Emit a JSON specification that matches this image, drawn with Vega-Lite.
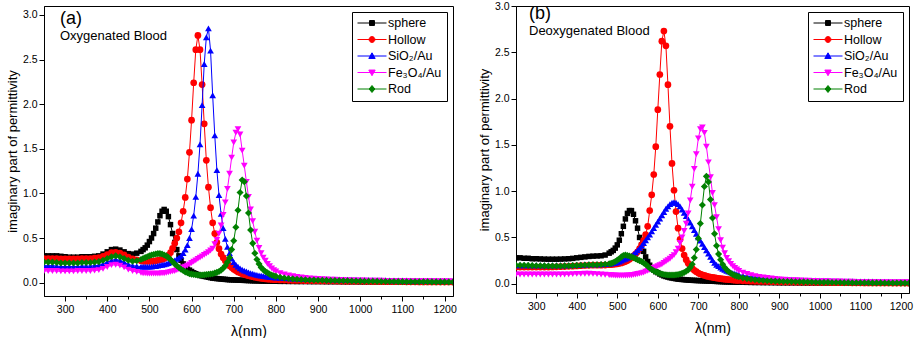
{
"$schema":"https://vega.github.io/schema/vega-lite/v6.json",
"padding":{"left":5,"top":0,"right":4,"bottom":2},
"spacing":20,
"config":{
 "font":"Liberation Sans",
 "view":{"stroke":"#000000","strokeWidth":1},
 "axis":{"grid":false,"domainColor":"#000000","tickColor":"#000000","labelColor":"#000000","titleColor":"#000000","labelFontSize":10.5,"titleFontWeight":"normal","labelFont":"Liberation Sans","titleFont":"Liberation Sans","labelFlush":false,"labelOverlap":false},
 "legend":{"orient":"top-right","offset":6,"padding":5,"strokeColor":"#000000","fillColor":"#ffffff","symbolSize":841,"symbolStrokeWidth":1,"symbolOpacity":1,"labelFontSize":12.5,"labelColor":"#000000","labelOffset":1,"rowPadding":3.5,"clipHeight":12,"labelFont":"Liberation Sans"},
 "title":{"color":"#000000","subtitleColor":"#000000","font":"Liberation Sans","subtitleFont":"Liberation Sans"}
},
"datasets":{
"leg":[{"series":"sphere"},{"series":"Hollow"},{"series":"SiO₂/Au"},{"series":"Fe₃O₄/Au"},{"series":"Rod"}],
"a":[
{"x":250,"s":0.30,"h":0.27,"si":0.19,"fe":0.13,"r":0.23},
{"x":260,"s":0.30,"h":0.27,"si":0.19,"fe":0.13,"r":0.23},
{"x":270,"s":0.30,"h":0.27,"si":0.19,"fe":0.13,"r":0.23},
{"x":280,"s":0.30,"h":0.27,"si":0.185,"fe":0.13,"r":0.225},
{"x":290,"s":0.295,"h":0.265,"si":0.18,"fe":0.125,"r":0.22},
{"x":300,"s":0.29,"h":0.265,"si":0.18,"fe":0.125,"r":0.22},
{"x":310,"s":0.285,"h":0.265,"si":0.18,"fe":0.125,"r":0.22},
{"x":320,"s":0.285,"h":0.265,"si":0.18,"fe":0.125,"r":0.22},
{"x":330,"s":0.285,"h":0.265,"si":0.18,"fe":0.13,"r":0.22},
{"x":340,"s":0.29,"h":0.27,"si":0.185,"fe":0.13,"r":0.225},
{"x":350,"s":0.29,"h":0.27,"si":0.185,"fe":0.13,"r":0.225},
{"x":360,"s":0.29,"h":0.27,"si":0.185,"fe":0.13,"r":0.225},
{"x":370,"s":0.295,"h":0.275,"si":0.19,"fe":0.135,"r":0.23},
{"x":380,"s":0.30,"h":0.28,"si":0.195,"fe":0.14,"r":0.235},
{"x":390,"s":0.32,"h":0.295,"si":0.21,"fe":0.155,"r":0.25},
{"x":400,"s":0.345,"h":0.315,"si":0.23,"fe":0.175,"r":0.27},
{"x":410,"s":0.37,"h":0.335,"si":0.25,"fe":0.195,"r":0.29},
{"x":420,"s":0.375,"h":0.34,"si":0.26,"fe":0.20,"r":0.30},
{"x":430,"s":0.365,"h":0.33,"si":0.25,"fe":0.19,"r":0.29},
{"x":440,"s":0.345,"h":0.31,"si":0.23,"fe":0.17,"r":0.27},
{"x":450,"s":0.325,"h":0.285,"si":0.205,"fe":0.145,"r":0.25},
{"x":460,"s":0.32,"h":0.265,"si":0.19,"fe":0.13,"r":0.24},
{"x":470,"s":0.33,"h":0.255,"si":0.185,"fe":0.12,"r":0.245},
{"x":480,"s":0.35,"h":0.245,"si":0.18,"fe":0.11,"r":0.26},
{"x":485,"s":0.37,"h":0.24,"si":0.18,"fe":0.105,"r":0.27},
{"x":490,"s":0.39,"h":0.24,"si":0.18,"fe":0.105,"r":0.28},
{"x":495,"s":0.42,"h":0.24,"si":0.18,"fe":0.1,"r":0.29},
{"x":500,"s":0.46,"h":0.24,"si":0.18,"fe":0.1,"r":0.30},
{"x":505,"s":0.5,"h":0.24,"si":0.18,"fe":0.1,"r":0.31},
{"x":510,"s":0.55,"h":0.24,"si":0.185,"fe":0.1,"r":0.315},
{"x":515,"s":0.61,"h":0.245,"si":0.185,"fe":0.1,"r":0.32},
{"x":520,"s":0.68,"h":0.25,"si":0.19,"fe":0.1,"r":0.325},
{"x":525,"s":0.75,"h":0.255,"si":0.195,"fe":0.1,"r":0.325},
{"x":530,"s":0.80,"h":0.26,"si":0.2,"fe":0.105,"r":0.32},
{"x":535,"s":0.82,"h":0.27,"si":0.205,"fe":0.105,"r":0.31},
{"x":540,"s":0.80,"h":0.285,"si":0.21,"fe":0.11,"r":0.30},
{"x":545,"s":0.74,"h":0.305,"si":0.22,"fe":0.115,"r":0.28},
{"x":550,"s":0.65,"h":0.335,"si":0.23,"fe":0.12,"r":0.26},
{"x":555,"s":0.55,"h":0.385,"si":0.24,"fe":0.125,"r":0.235},
{"x":560,"s":0.45,"h":0.44,"si":0.25,"fe":0.13,"r":0.21},
{"x":565,"s":0.37,"h":0.5,"si":0.265,"fe":0.14,"r":0.19},
{"x":570,"s":0.3,"h":0.57,"si":0.28,"fe":0.15,"r":0.17},
{"x":575,"s":0.25,"h":0.67,"si":0.3,"fe":0.16,"r":0.15},
{"x":580,"s":0.21,"h":0.8,"si":0.33,"fe":0.17,"r":0.135},
{"x":585,"s":0.18,"h":0.955,"si":0.37,"fe":0.18,"r":0.12},
{"x":590,"s":0.16,"h":1.16,"si":0.42,"fe":0.19,"r":0.11},
{"x":595,"s":0.14,"h":1.46,"si":0.5,"fe":0.205,"r":0.1},
{"x":600,"s":0.125,"h":1.82,"si":0.6,"fe":0.22,"r":0.095},
{"x":605,"s":0.11,"h":2.24,"si":0.75,"fe":0.235,"r":0.09},
{"x":610,"s":0.1,"h":2.61,"si":0.96,"fe":0.25,"r":0.088},
{"x":615,"s":0.09,"h":2.77,"si":1.22,"fe":0.265,"r":0.085},
{"x":620,"s":0.08,"h":2.61,"si":1.55,"fe":0.28,"r":0.085},
{"x":625,"s":0.075,"h":2.22,"si":1.99,"fe":0.295,"r":0.085},
{"x":630,"s":0.07,"h":1.78,"si":2.45,"fe":0.31,"r":0.087},
{"x":635,"s":0.065,"h":1.37,"si":2.75,"fe":0.325,"r":0.09},
{"x":640,"s":0.06,"h":1.07,"si":2.85,"fe":0.34,"r":0.093},
{"x":645,"s":0.055,"h":0.84,"si":2.6,"fe":0.36,"r":0.097},
{"x":650,"s":0.05,"h":0.67,"si":2.1,"fe":0.38,"r":0.1},
{"x":655,"s":0.048,"h":0.55,"si":1.65,"fe":0.43,"r":0.107},
{"x":660,"s":0.045,"h":0.45,"si":1.26,"fe":0.48,"r":0.115},
{"x":665,"s":0.043,"h":0.38,"si":0.98,"fe":0.55,"r":0.125},
{"x":670,"s":0.04,"h":0.32,"si":0.77,"fe":0.64,"r":0.14},
{"x":675,"s":0.038,"h":0.28,"si":0.61,"fe":0.76,"r":0.16},
{"x":680,"s":0.036,"h":0.245,"si":0.49,"fe":0.9,"r":0.19},
{"x":685,"s":0.034,"h":0.215,"si":0.4,"fe":1.05,"r":0.23},
{"x":690,"s":0.032,"h":0.19,"si":0.33,"fe":1.22,"r":0.28},
{"x":695,"s":0.031,"h":0.17,"si":0.27,"fe":1.4,"r":0.37},
{"x":700,"s":0.03,"h":0.15,"si":0.23,"fe":1.57,"r":0.47},
{"x":705,"s":0.029,"h":0.135,"si":0.2,"fe":1.68,"r":0.62},
{"x":710,"s":0.028,"h":0.12,"si":0.18,"fe":1.72,"r":0.81},
{"x":715,"s":0.027,"h":0.11,"si":0.16,"fe":1.66,"r":1.01},
{"x":720,"s":0.026,"h":0.1,"si":0.145,"fe":1.48,"r":1.15},
{"x":725,"s":0.025,"h":0.092,"si":0.135,"fe":1.31,"r":1.13},
{"x":730,"s":0.024,"h":0.085,"si":0.125,"fe":1.13,"r":0.97},
{"x":735,"s":0.023,"h":0.078,"si":0.115,"fe":0.96,"r":0.78},
{"x":740,"s":0.022,"h":0.072,"si":0.105,"fe":0.82,"r":0.59},
{"x":745,"s":0.021,"h":0.066,"si":0.1,"fe":0.69,"r":0.44},
{"x":750,"s":0.02,"h":0.06,"si":0.092,"fe":0.57,"r":0.33},
{"x":755,"s":0.02,"h":0.056,"si":0.087,"fe":0.47,"r":0.26},
{"x":760,"s":0.019,"h":0.052,"si":0.082,"fe":0.39,"r":0.21},
{"x":765,"s":0.018,"h":0.048,"si":0.078,"fe":0.33,"r":0.17},
{"x":770,"s":0.018,"h":0.045,"si":0.074,"fe":0.28,"r":0.145},
{"x":775,"s":0.017,"h":0.042,"si":0.07,"fe":0.245,"r":0.125},
{"x":780,"s":0.017,"h":0.04,"si":0.067,"fe":0.21,"r":0.11},
{"x":785,"s":0.016,"h":0.038,"si":0.064,"fe":0.185,"r":0.095},
{"x":790,"s":0.016,"h":0.036,"si":0.061,"fe":0.16,"r":0.085},
{"x":795,"s":0.015,"h":0.034,"si":0.058,"fe":0.14,"r":0.077},
{"x":800,"s":0.015,"h":0.032,"si":0.056,"fe":0.125,"r":0.07},
{"x":810,"s":0.014,"h":0.03,"si":0.053,"fe":0.105,"r":0.06},
{"x":820,"s":0.014,"h":0.028,"si":0.05,"fe":0.092,"r":0.052},
{"x":830,"s":0.013,"h":0.026,"si":0.048,"fe":0.082,"r":0.046},
{"x":840,"s":0.013,"h":0.025,"si":0.046,"fe":0.073,"r":0.042},
{"x":850,"s":0.012,"h":0.024,"si":0.044,"fe":0.065,"r":0.038},
{"x":860,"s":0.012,"h":0.023,"si":0.043,"fe":0.058,"r":0.035},
{"x":870,"s":0.012,"h":0.022,"si":0.042,"fe":0.053,"r":0.032},
{"x":880,"s":0.011,"h":0.021,"si":0.041,"fe":0.048,"r":0.03},
{"x":890,"s":0.011,"h":0.02,"si":0.04,"fe":0.044,"r":0.028},
{"x":900,"s":0.011,"h":0.02,"si":0.04,"fe":0.041,"r":0.027},
{"x":910,"s":0.011,"h":0.019,"si":0.039,"fe":0.038,"r":0.026},
{"x":920,"s":0.01,"h":0.018,"si":0.038,"fe":0.036,"r":0.025},
{"x":930,"s":0.01,"h":0.018,"si":0.037,"fe":0.034,"r":0.024},
{"x":940,"s":0.01,"h":0.017,"si":0.036,"fe":0.032,"r":0.023},
{"x":950,"s":0.01,"h":0.016,"si":0.035,"fe":0.031,"r":0.022},
{"x":960,"s":0.009,"h":0.016,"si":0.034,"fe":0.029,"r":0.021},
{"x":970,"s":0.009,"h":0.015,"si":0.033,"fe":0.028,"r":0.02},
{"x":980,"s":0.009,"h":0.015,"si":0.032,"fe":0.027,"r":0.019},
{"x":990,"s":0.009,"h":0.014,"si":0.032,"fe":0.026,"r":0.018},
{"x":1000,"s":0.008,"h":0.014,"si":0.031,"fe":0.025,"r":0.017},
{"x":1010,"s":0.008,"h":0.013,"si":0.03,"fe":0.024,"r":0.016},
{"x":1020,"s":0.008,"h":0.013,"si":0.029,"fe":0.023,"r":0.015},
{"x":1030,"s":0.008,"h":0.012,"si":0.029,"fe":0.022,"r":0.015},
{"x":1040,"s":0.008,"h":0.012,"si":0.028,"fe":0.021,"r":0.014},
{"x":1050,"s":0.007,"h":0.011,"si":0.027,"fe":0.021,"r":0.013},
{"x":1060,"s":0.007,"h":0.011,"si":0.027,"fe":0.02,"r":0.013},
{"x":1070,"s":0.007,"h":0.011,"si":0.026,"fe":0.02,"r":0.012},
{"x":1080,"s":0.007,"h":0.01,"si":0.025,"fe":0.019,"r":0.012},
{"x":1090,"s":0.007,"h":0.01,"si":0.025,"fe":0.019,"r":0.011},
{"x":1100,"s":0.006,"h":0.01,"si":0.024,"fe":0.018,"r":0.011},
{"x":1110,"s":0.006,"h":0.009,"si":0.024,"fe":0.018,"r":0.01},
{"x":1120,"s":0.006,"h":0.009,"si":0.023,"fe":0.017,"r":0.01},
{"x":1130,"s":0.006,"h":0.009,"si":0.023,"fe":0.017,"r":0.01},
{"x":1140,"s":0.006,"h":0.008,"si":0.022,"fe":0.017,"r":0.009},
{"x":1150,"s":0.006,"h":0.008,"si":0.022,"fe":0.016,"r":0.009},
{"x":1160,"s":0.005,"h":0.008,"si":0.021,"fe":0.016,"r":0.009},
{"x":1170,"s":0.005,"h":0.008,"si":0.021,"fe":0.016,"r":0.008},
{"x":1180,"s":0.005,"h":0.007,"si":0.021,"fe":0.015,"r":0.008},
{"x":1190,"s":0.005,"h":0.007,"si":0.02,"fe":0.015,"r":0.008},
{"x":1200,"s":0.005,"h":0.007,"si":0.02,"fe":0.015,"r":0.008},
{"x":1210,"s":0.005,"h":0.007,"si":0.02,"fe":0.015,"r":0.007},
{"x":1220,"s":0.005,"h":0.006,"si":0.019,"fe":0.014,"r":0.007}
],
"b":[
{"x":250,"s":0.28,"h":0.18,"si":0.2,"fe":0.1,"r":0.2},
{"x":260,"s":0.28,"h":0.18,"si":0.2,"fe":0.1,"r":0.2},
{"x":270,"s":0.275,"h":0.18,"si":0.2,"fe":0.1,"r":0.2},
{"x":280,"s":0.275,"h":0.18,"si":0.2,"fe":0.1,"r":0.198},
{"x":290,"s":0.27,"h":0.18,"si":0.2,"fe":0.1,"r":0.196},
{"x":300,"s":0.27,"h":0.18,"si":0.2,"fe":0.1,"r":0.195},
{"x":310,"s":0.268,"h":0.18,"si":0.2,"fe":0.1,"r":0.194},
{"x":320,"s":0.266,"h":0.18,"si":0.2,"fe":0.1,"r":0.193},
{"x":330,"s":0.265,"h":0.18,"si":0.2,"fe":0.1,"r":0.192},
{"x":340,"s":0.265,"h":0.182,"si":0.2,"fe":0.1,"r":0.192},
{"x":350,"s":0.265,"h":0.183,"si":0.2,"fe":0.1,"r":0.192},
{"x":360,"s":0.266,"h":0.184,"si":0.2,"fe":0.1,"r":0.192},
{"x":370,"s":0.268,"h":0.186,"si":0.2,"fe":0.1,"r":0.193},
{"x":380,"s":0.27,"h":0.188,"si":0.2,"fe":0.102,"r":0.194},
{"x":390,"s":0.274,"h":0.19,"si":0.202,"fe":0.104,"r":0.196},
{"x":400,"s":0.28,"h":0.192,"si":0.204,"fe":0.106,"r":0.198},
{"x":410,"s":0.285,"h":0.195,"si":0.206,"fe":0.107,"r":0.2},
{"x":420,"s":0.29,"h":0.197,"si":0.208,"fe":0.108,"r":0.202},
{"x":430,"s":0.295,"h":0.199,"si":0.21,"fe":0.108,"r":0.204},
{"x":440,"s":0.298,"h":0.2,"si":0.21,"fe":0.106,"r":0.205},
{"x":450,"s":0.30,"h":0.2,"si":0.21,"fe":0.104,"r":0.206},
{"x":460,"s":0.302,"h":0.2,"si":0.21,"fe":0.1,"r":0.207},
{"x":470,"s":0.31,"h":0.202,"si":0.212,"fe":0.097,"r":0.21},
{"x":480,"s":0.33,"h":0.205,"si":0.215,"fe":0.094,"r":0.215},
{"x":485,"s":0.345,"h":0.207,"si":0.218,"fe":0.092,"r":0.22},
{"x":490,"s":0.36,"h":0.21,"si":0.222,"fe":0.09,"r":0.23},
{"x":495,"s":0.385,"h":0.212,"si":0.226,"fe":0.089,"r":0.24},
{"x":500,"s":0.42,"h":0.215,"si":0.232,"fe":0.088,"r":0.255},
{"x":505,"s":0.47,"h":0.22,"si":0.24,"fe":0.087,"r":0.27},
{"x":510,"s":0.54,"h":0.225,"si":0.25,"fe":0.087,"r":0.29},
{"x":515,"s":0.62,"h":0.232,"si":0.26,"fe":0.087,"r":0.305},
{"x":520,"s":0.7,"h":0.24,"si":0.27,"fe":0.088,"r":0.31},
{"x":525,"s":0.76,"h":0.25,"si":0.28,"fe":0.089,"r":0.305},
{"x":530,"s":0.79,"h":0.265,"si":0.29,"fe":0.09,"r":0.3},
{"x":535,"s":0.79,"h":0.28,"si":0.3,"fe":0.092,"r":0.29},
{"x":540,"s":0.75,"h":0.3,"si":0.32,"fe":0.095,"r":0.28},
{"x":545,"s":0.68,"h":0.32,"si":0.34,"fe":0.1,"r":0.27},
{"x":550,"s":0.6,"h":0.345,"si":0.36,"fe":0.105,"r":0.26},
{"x":555,"s":0.5,"h":0.38,"si":0.385,"fe":0.11,"r":0.25},
{"x":560,"s":0.42,"h":0.42,"si":0.41,"fe":0.115,"r":0.24},
{"x":565,"s":0.35,"h":0.47,"si":0.44,"fe":0.12,"r":0.225},
{"x":570,"s":0.29,"h":0.53,"si":0.47,"fe":0.13,"r":0.21},
{"x":575,"s":0.24,"h":0.62,"si":0.5,"fe":0.14,"r":0.19},
{"x":580,"s":0.2,"h":0.79,"si":0.53,"fe":0.15,"r":0.17},
{"x":585,"s":0.17,"h":0.96,"si":0.565,"fe":0.16,"r":0.155},
{"x":590,"s":0.15,"h":1.18,"si":0.6,"fe":0.17,"r":0.14},
{"x":595,"s":0.13,"h":1.48,"si":0.635,"fe":0.18,"r":0.13},
{"x":600,"s":0.12,"h":1.88,"si":0.67,"fe":0.19,"r":0.12},
{"x":605,"s":0.105,"h":2.26,"si":0.705,"fe":0.2,"r":0.11},
{"x":610,"s":0.095,"h":2.62,"si":0.74,"fe":0.21,"r":0.105},
{"x":615,"s":0.085,"h":2.73,"si":0.775,"fe":0.225,"r":0.1},
{"x":620,"s":0.078,"h":2.57,"si":0.81,"fe":0.24,"r":0.097},
{"x":625,"s":0.072,"h":2.15,"si":0.835,"fe":0.255,"r":0.095},
{"x":630,"s":0.066,"h":1.7,"si":0.86,"fe":0.27,"r":0.094},
{"x":635,"s":0.062,"h":1.3,"si":0.875,"fe":0.29,"r":0.094},
{"x":640,"s":0.058,"h":1.01,"si":0.88,"fe":0.31,"r":0.095},
{"x":645,"s":0.054,"h":0.78,"si":0.875,"fe":0.34,"r":0.097},
{"x":650,"s":0.05,"h":0.6,"si":0.86,"fe":0.38,"r":0.1},
{"x":655,"s":0.048,"h":0.48,"si":0.835,"fe":0.44,"r":0.105},
{"x":660,"s":0.046,"h":0.38,"si":0.8,"fe":0.5,"r":0.112},
{"x":665,"s":0.044,"h":0.31,"si":0.765,"fe":0.57,"r":0.122},
{"x":670,"s":0.042,"h":0.26,"si":0.73,"fe":0.65,"r":0.135},
{"x":675,"s":0.04,"h":0.22,"si":0.695,"fe":0.76,"r":0.15},
{"x":680,"s":0.038,"h":0.19,"si":0.66,"fe":0.9,"r":0.175},
{"x":685,"s":0.037,"h":0.165,"si":0.62,"fe":1.05,"r":0.21},
{"x":690,"s":0.036,"h":0.145,"si":0.58,"fe":1.24,"r":0.28},
{"x":695,"s":0.035,"h":0.13,"si":0.54,"fe":1.4,"r":0.37},
{"x":700,"s":0.034,"h":0.115,"si":0.5,"fe":1.57,"r":0.49},
{"x":705,"s":0.033,"h":0.105,"si":0.465,"fe":1.67,"r":0.65},
{"x":710,"s":0.032,"h":0.097,"si":0.43,"fe":1.69,"r":0.85},
{"x":715,"s":0.031,"h":0.09,"si":0.395,"fe":1.63,"r":1.05},
{"x":720,"s":0.03,"h":0.083,"si":0.36,"fe":1.48,"r":1.16},
{"x":725,"s":0.029,"h":0.078,"si":0.325,"fe":1.31,"r":1.1},
{"x":730,"s":0.028,"h":0.073,"si":0.29,"fe":1.15,"r":0.91},
{"x":735,"s":0.027,"h":0.069,"si":0.255,"fe":0.98,"r":0.71},
{"x":740,"s":0.026,"h":0.065,"si":0.225,"fe":0.85,"r":0.54},
{"x":745,"s":0.025,"h":0.061,"si":0.205,"fe":0.72,"r":0.41},
{"x":750,"s":0.024,"h":0.058,"si":0.19,"fe":0.59,"r":0.32},
{"x":755,"s":0.023,"h":0.055,"si":0.175,"fe":0.47,"r":0.26},
{"x":760,"s":0.022,"h":0.052,"si":0.162,"fe":0.39,"r":0.21},
{"x":765,"s":0.021,"h":0.049,"si":0.15,"fe":0.33,"r":0.175},
{"x":770,"s":0.02,"h":0.047,"si":0.14,"fe":0.28,"r":0.15},
{"x":775,"s":0.02,"h":0.045,"si":0.13,"fe":0.245,"r":0.13},
{"x":780,"s":0.019,"h":0.043,"si":0.122,"fe":0.215,"r":0.113},
{"x":785,"s":0.018,"h":0.041,"si":0.115,"fe":0.19,"r":0.1},
{"x":790,"s":0.018,"h":0.039,"si":0.108,"fe":0.17,"r":0.09},
{"x":795,"s":0.017,"h":0.037,"si":0.102,"fe":0.155,"r":0.082},
{"x":800,"s":0.017,"h":0.035,"si":0.097,"fe":0.14,"r":0.075},
{"x":810,"s":0.016,"h":0.032,"si":0.09,"fe":0.12,"r":0.063},
{"x":820,"s":0.015,"h":0.03,"si":0.083,"fe":0.105,"r":0.055},
{"x":830,"s":0.014,"h":0.028,"si":0.077,"fe":0.093,"r":0.048},
{"x":840,"s":0.013,"h":0.026,"si":0.071,"fe":0.083,"r":0.043},
{"x":850,"s":0.013,"h":0.025,"si":0.066,"fe":0.075,"r":0.039},
{"x":860,"s":0.012,"h":0.024,"si":0.062,"fe":0.068,"r":0.035},
{"x":870,"s":0.012,"h":0.023,"si":0.058,"fe":0.062,"r":0.032},
{"x":880,"s":0.011,"h":0.022,"si":0.055,"fe":0.057,"r":0.03},
{"x":890,"s":0.011,"h":0.021,"si":0.052,"fe":0.052,"r":0.028},
{"x":900,"s":0.01,"h":0.02,"si":0.05,"fe":0.048,"r":0.026},
{"x":910,"s":0.01,"h":0.019,"si":0.048,"fe":0.045,"r":0.025},
{"x":920,"s":0.01,"h":0.018,"si":0.046,"fe":0.042,"r":0.024},
{"x":930,"s":0.01,"h":0.018,"si":0.044,"fe":0.04,"r":0.023},
{"x":940,"s":0.01,"h":0.017,"si":0.042,"fe":0.038,"r":0.022},
{"x":950,"s":0.009,"h":0.016,"si":0.04,"fe":0.036,"r":0.021},
{"x":960,"s":0.009,"h":0.016,"si":0.039,"fe":0.034,"r":0.02},
{"x":970,"s":0.009,"h":0.015,"si":0.037,"fe":0.033,"r":0.019},
{"x":980,"s":0.009,"h":0.015,"si":0.036,"fe":0.031,"r":0.018},
{"x":990,"s":0.008,"h":0.014,"si":0.035,"fe":0.03,"r":0.017},
{"x":1000,"s":0.008,"h":0.014,"si":0.034,"fe":0.029,"r":0.016},
{"x":1010,"s":0.008,"h":0.013,"si":0.033,"fe":0.028,"r":0.015},
{"x":1020,"s":0.008,"h":0.013,"si":0.032,"fe":0.027,"r":0.015},
{"x":1030,"s":0.007,"h":0.012,"si":0.031,"fe":0.026,"r":0.014},
{"x":1040,"s":0.007,"h":0.012,"si":0.03,"fe":0.025,"r":0.013},
{"x":1050,"s":0.007,"h":0.011,"si":0.029,"fe":0.024,"r":0.013},
{"x":1060,"s":0.007,"h":0.011,"si":0.028,"fe":0.023,"r":0.012},
{"x":1070,"s":0.007,"h":0.011,"si":0.028,"fe":0.023,"r":0.012},
{"x":1080,"s":0.006,"h":0.01,"si":0.027,"fe":0.022,"r":0.011},
{"x":1090,"s":0.006,"h":0.01,"si":0.026,"fe":0.021,"r":0.011},
{"x":1100,"s":0.006,"h":0.01,"si":0.026,"fe":0.021,"r":0.01},
{"x":1110,"s":0.006,"h":0.009,"si":0.025,"fe":0.02,"r":0.01},
{"x":1120,"s":0.006,"h":0.009,"si":0.024,"fe":0.02,"r":0.01},
{"x":1130,"s":0.006,"h":0.009,"si":0.024,"fe":0.019,"r":0.009},
{"x":1140,"s":0.005,"h":0.008,"si":0.023,"fe":0.019,"r":0.009},
{"x":1150,"s":0.005,"h":0.008,"si":0.023,"fe":0.018,"r":0.009},
{"x":1160,"s":0.005,"h":0.008,"si":0.022,"fe":0.018,"r":0.008},
{"x":1170,"s":0.005,"h":0.008,"si":0.022,"fe":0.018,"r":0.008},
{"x":1180,"s":0.005,"h":0.007,"si":0.021,"fe":0.017,"r":0.008},
{"x":1190,"s":0.005,"h":0.007,"si":0.021,"fe":0.017,"r":0.008},
{"x":1200,"s":0.005,"h":0.007,"si":0.021,"fe":0.017,"r":0.007},
{"x":1210,"s":0.005,"h":0.007,"si":0.02,"fe":0.016,"r":0.007},
{"x":1220,"s":0.005,"h":0.006,"si":0.02,"fe":0.016,"r":0.007}
]
},
"hconcat":[
{
 "width":409,"height":290,
 "title":{"text":"(a)","subtitle":"Oxygenated Blood","anchor":"start","frame":"group","offset":-37,"dx":16,"fontSize":18,"fontWeight":"normal","subtitleFontSize":13,"subtitlePadding":2},
 "data":{"name":"a"},
 "encoding":{"x":{"field":"x","type":"quantitative","title":"λ(nm)","scale":{"domain":[250,1220],"nice":false,"zero":false},"axis":{"values":[300,350,400,450,500,550,600,650,700,750,800,850,900,950,1000,1050,1100,1150,1200],"format":"d","labelExpr":"datum.value % 100 === 0 ? datum.label : ''","tickSize":{"condition":{"test":"datum.value % 100 === 0","value":5},"value":3},"labelPadding":3,"titlePadding":10,"titleFontSize":14}}},
 "layer":[
  {"mark":{"type":"line","color":"#000000","strokeWidth":1,"clip":true},"encoding":{"y":{"field":"s","type":"quantitative","title":"imaginary part of permittivity","scale":{"domain":[-0.15,3.1],"nice":false,"zero":false},"axis":{"values":[0,0.25,0.5,0.75,1,1.25,1.5,1.75,2,2.25,2.5,2.75,3],"labelExpr":"(datum.value*2)%1===0 ? format(datum.value,'.1f') : ''","tickSize":{"condition":{"test":"(datum.value*2)%1===0","value":5},"value":3},"labelPadding":2,"titlePadding":3,"titleFontSize":13}}}},
  {"mark":{"type":"point","shape":"square","filled":true,"color":"#000000","opacity":1,"size":30,"clip":true},"encoding":{"y":{"field":"s","type":"quantitative"}}},
  {"mark":{"type":"line","color":"#ff0000","strokeWidth":1,"clip":true},"encoding":{"y":{"field":"h","type":"quantitative"}}},
  {"mark":{"type":"point","shape":"circle","filled":true,"color":"#ff0000","opacity":1,"size":45,"clip":true},"encoding":{"y":{"field":"h","type":"quantitative"}}},
  {"mark":{"type":"line","color":"#0000ff","strokeWidth":1,"clip":true},"encoding":{"y":{"field":"si","type":"quantitative"}}},
  {"mark":{"type":"point","shape":"triangle-up","filled":true,"color":"#0000ff","opacity":1,"size":45,"clip":true},"encoding":{"y":{"field":"si","type":"quantitative"}}},
  {"mark":{"type":"line","color":"#ff00ff","strokeWidth":1,"clip":true},"encoding":{"y":{"field":"fe","type":"quantitative"}}},
  {"mark":{"type":"point","shape":"triangle-down","filled":true,"color":"#ff00ff","opacity":1,"size":45,"clip":true},"encoding":{"y":{"field":"fe","type":"quantitative"}}},
  {"mark":{"type":"line","color":"#008000","strokeWidth":1,"clip":true},"encoding":{"y":{"field":"r","type":"quantitative"}}},
  {"mark":{"type":"point","shape":"diamond","filled":true,"color":"#008000","opacity":1,"size":50,"clip":true},"encoding":{"y":{"field":"r","type":"quantitative"}}},
  {"data":{"name":"leg"},"mark":{"type":"point","filled":true,"opacity":0},
   "encoding":{"x":null,
    "fill":{"field":"series","type":"nominal","title":null,"scale":{"domain":["sphere","Hollow","SiO₂/Au","Fe₃O₄/Au","Rod"],"range":["#000000","#ff0000","#0000ff","#ff00ff","#008000"]}},
    "stroke":{"field":"series","type":"nominal","title":null,"scale":{"domain":["sphere","Hollow","SiO₂/Au","Fe₃O₄/Au","Rod"],"range":["#000000","#ff0000","#0000ff","#ff00ff","#008000"]}},
    "shape":{"field":"series","type":"nominal","title":null,"scale":{"domain":["sphere","Hollow","SiO₂/Au","Fe₃O₄/Au","Rod"],"range":["M-1,0H1M-0.17,-0.17H0.17V0.17H-0.17Z","M-1,0H1M0.2,0A0.2,0.2,0,1,1,-0.2,0A0.2,0.2,0,1,1,0.2,0Z","M-1,0H1M0,-0.22L0.22,0.17L-0.22,0.17Z","M-1,0H1M0,0.22L0.22,-0.17L-0.22,-0.17Z","M-1,0H1M0,-0.24L0.2,0L0,0.24L-0.2,0Z"]}}
   }}
 ]
},
{
 "width":393,"height":287,
 "title":{"text":"(b)","subtitle":"Deoxygenated Blood","anchor":"start","frame":"group","offset":-37,"dx":13,"fontSize":18,"fontWeight":"normal","subtitleFontSize":13,"subtitlePadding":2},
 "data":{"name":"b"},
 "encoding":{"x":{"field":"x","type":"quantitative","title":"λ(nm)","scale":{"domain":[250,1220],"nice":false,"zero":false},"axis":{"values":[300,350,400,450,500,550,600,650,700,750,800,850,900,950,1000,1050,1100,1150,1200],"format":"d","labelExpr":"datum.value % 100 === 0 ? datum.label : ''","tickSize":{"condition":{"test":"datum.value % 100 === 0","value":5},"value":3},"labelPadding":3,"titlePadding":10,"titleFontSize":14}}},
 "layer":[
  {"mark":{"type":"line","color":"#000000","strokeWidth":1,"clip":true},"encoding":{"y":{"field":"s","type":"quantitative","title":"imaginary part of permittivity","scale":{"domain":[-0.1,3.0],"nice":false,"zero":false},"axis":{"values":[0,0.25,0.5,0.75,1,1.25,1.5,1.75,2,2.25,2.5,2.75,3],"labelExpr":"(datum.value*2)%1===0 ? format(datum.value,'.1f') : ''","tickSize":{"condition":{"test":"(datum.value*2)%1===0","value":5},"value":3},"labelPadding":2,"titlePadding":3,"titleFontSize":13}}}},
  {"mark":{"type":"point","shape":"square","filled":true,"color":"#000000","opacity":1,"size":30,"clip":true},"encoding":{"y":{"field":"s","type":"quantitative"}}},
  {"mark":{"type":"line","color":"#ff0000","strokeWidth":1,"clip":true},"encoding":{"y":{"field":"h","type":"quantitative"}}},
  {"mark":{"type":"point","shape":"circle","filled":true,"color":"#ff0000","opacity":1,"size":45,"clip":true},"encoding":{"y":{"field":"h","type":"quantitative"}}},
  {"mark":{"type":"line","color":"#0000ff","strokeWidth":1,"clip":true},"encoding":{"y":{"field":"si","type":"quantitative"}}},
  {"mark":{"type":"point","shape":"triangle-up","filled":true,"color":"#0000ff","opacity":1,"size":45,"clip":true},"encoding":{"y":{"field":"si","type":"quantitative"}}},
  {"mark":{"type":"line","color":"#ff00ff","strokeWidth":1,"clip":true},"encoding":{"y":{"field":"fe","type":"quantitative"}}},
  {"mark":{"type":"point","shape":"triangle-down","filled":true,"color":"#ff00ff","opacity":1,"size":45,"clip":true},"encoding":{"y":{"field":"fe","type":"quantitative"}}},
  {"mark":{"type":"line","color":"#008000","strokeWidth":1,"clip":true},"encoding":{"y":{"field":"r","type":"quantitative"}}},
  {"mark":{"type":"point","shape":"diamond","filled":true,"color":"#008000","opacity":1,"size":50,"clip":true},"encoding":{"y":{"field":"r","type":"quantitative"}}},
  {"data":{"name":"leg"},"mark":{"type":"point","filled":true,"opacity":0},
   "encoding":{"x":null,
    "fill":{"field":"series","type":"nominal","title":null,"scale":{"domain":["sphere","Hollow","SiO₂/Au","Fe₃O₄/Au","Rod"],"range":["#000000","#ff0000","#0000ff","#ff00ff","#008000"]}},
    "stroke":{"field":"series","type":"nominal","title":null,"scale":{"domain":["sphere","Hollow","SiO₂/Au","Fe₃O₄/Au","Rod"],"range":["#000000","#ff0000","#0000ff","#ff00ff","#008000"]}},
    "shape":{"field":"series","type":"nominal","title":null,"scale":{"domain":["sphere","Hollow","SiO₂/Au","Fe₃O₄/Au","Rod"],"range":["M-1,0H1M-0.17,-0.17H0.17V0.17H-0.17Z","M-1,0H1M0.2,0A0.2,0.2,0,1,1,-0.2,0A0.2,0.2,0,1,1,0.2,0Z","M-1,0H1M0,-0.22L0.22,0.17L-0.22,0.17Z","M-1,0H1M0,0.22L0.22,-0.17L-0.22,-0.17Z","M-1,0H1M0,-0.24L0.2,0L0,0.24L-0.2,0Z"]}}
   }}
 ]
}
],
"resolve":{"scale":{"fill":"independent","stroke":"independent","shape":"independent"},"legend":{"fill":"independent","stroke":"independent","shape":"independent"}}
}
